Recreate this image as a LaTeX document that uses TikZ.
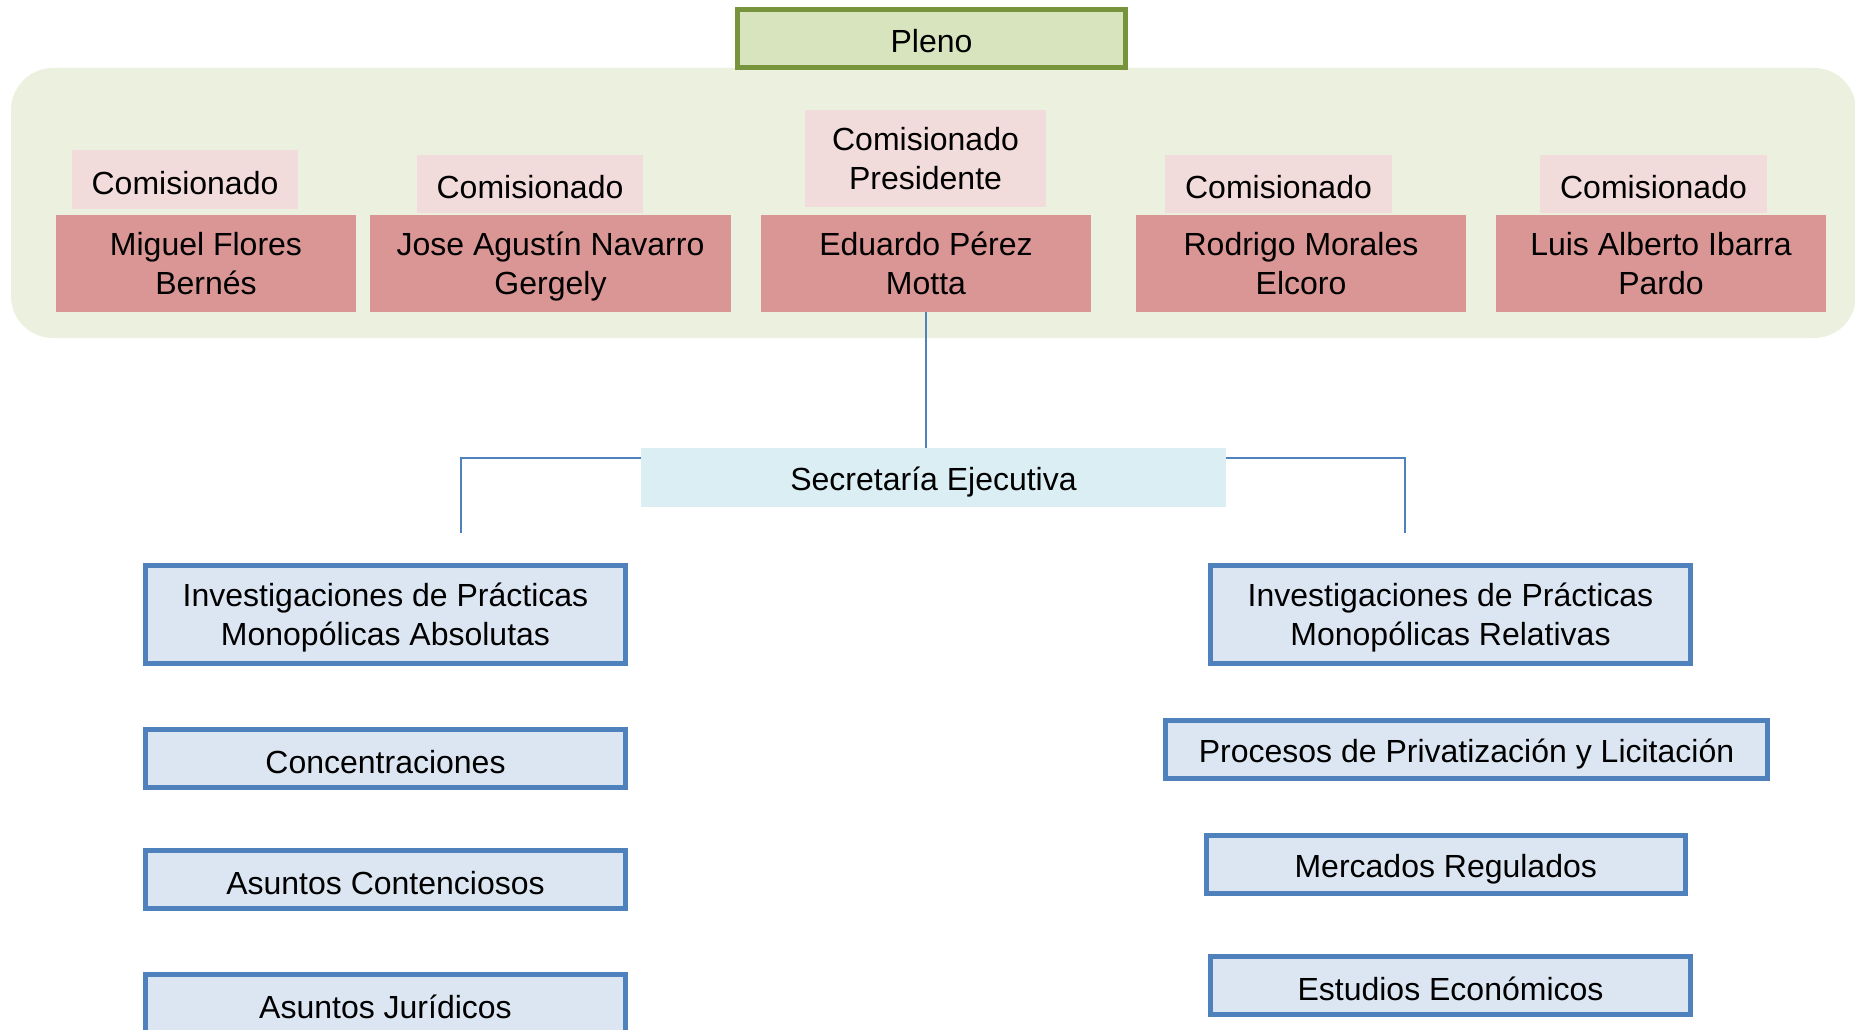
\documentclass[tikz,border=0pt]{standalone}
\usepackage{fontspec}
\setmainfont{Liberation Sans}
\definecolor{plenofill}{HTML}{D7E4BD}
\definecolor{plenoline}{HTML}{77933C}
\definecolor{bgreen}{HTML}{EBF1DE}
\definecolor{comfill}{HTML}{F2DCDB}
\definecolor{namefill}{HTML}{D99694}
\definecolor{secfill}{HTML}{DAEEF3}
\definecolor{bluefill}{HTML}{DCE6F2}
\definecolor{blueline}{HTML}{4F81BD}
\newcommand\mystrut{\rule[-3pt]{0pt}{35pt}}
\newcommand\topstrut{\rule[-3pt]{0pt}{33pt}}
\newcommand\botstrut{\rule[-8pt]{0pt}{30pt}}
\newcommand\twol[2]{\topstrut #1\\#2\botstrut}
\tikzset{
  base/.style={inner sep=0pt, align=center, font=\fontsize{32}{38}\selectfont, text=black,
    execute at begin node=\mystrut, execute at end node=\mystrut},
  twoline/.style={font=\fontsize{32}{39}\selectfont,
    execute at begin node={}, execute at end node={}},
  plenobox/.style={base, fill=plenofill, draw=plenoline, line width=5pt},
  combox/.style={base, fill=comfill},
  namebox/.style={base, twoline, fill=namefill},
  secbox/.style={base, fill=secfill},
  unitbox/.style={base, fill=bluefill, draw=blueline, line width=5pt},
  conn/.style={draw=blueline, line width=2pt}
}
\begin{document}
\begin{tikzpicture}[x=1pt,y=-1pt]
\useasboundingbox (0,0) rectangle (1855,1030);
% background panel
\fill[bgreen, rounded corners=42pt] (11,68) rectangle (1856,338);
% Pleno
\node[plenobox, minimum width=388pt, minimum height=58pt] (pleno) at (931.5,38.5) {Pleno};
% Comisionado labels
\node[combox, minimum width=226pt, minimum height=59pt] (c1) at (185,179.5) {Comisionado};
\node[combox, minimum width=226pt, minimum height=58pt] (c2) at (530,184) {Comisionado};
\node[combox, twoline, minimum width=241pt, minimum height=97pt] (cp) at (925.5,158.5) {\twol{Comisionado}{Presidente}};
\node[combox, minimum width=227pt, minimum height=58pt] (c4) at (1278.5,184) {Comisionado};
\node[combox, minimum width=227pt, minimum height=58pt] (c5) at (1653.5,184) {Comisionado};
% Names
\node[namebox, minimum width=300pt, minimum height=97pt] (n1) at (206,263.5) {\twol{Miguel Flores}{Bernés}};
\node[namebox, minimum width=361pt, minimum height=97pt] (n2) at (550.5,263.5) {\twol{Jose Agustín Navarro}{Gergely}};
\node[namebox, minimum width=330pt, minimum height=97pt] (n3) at (926,263.5) {\twol{Eduardo Pérez}{Motta}};
\node[namebox, minimum width=330pt, minimum height=97pt] (n4) at (1301,263.5) {\twol{Rodrigo Morales}{Elcoro}};
\node[namebox, minimum width=330pt, minimum height=97pt] (n5) at (1661,263.5) {\twol{Luis Alberto Ibarra}{Pardo}};
% Secretaria
\node[secbox, minimum width=585pt, minimum height=59pt] (sec) at (933.5,477.5) {Secretaría Ejecutiva};
% Units left
\node[unitbox, twoline, minimum width=480pt, minimum height=98pt] (a1) at (385.5,614.5) {\twol{Investigaciones de Prácticas}{Monopólicas Absolutas}};
\node[unitbox, minimum width=480pt, minimum height=58pt] (a2) at (385.5,758.5) {Concentraciones};
\node[unitbox, minimum width=480pt, minimum height=58pt] (a3) at (385.5,879.5) {Asuntos Contenciosos};
\node[unitbox, minimum width=480pt, minimum height=58pt] (a4) at (385.5,1003.5) {Asuntos Jurídicos};
% Units right
\node[unitbox, twoline, minimum width=480pt, minimum height=98pt] (b1) at (1450.5,614.5) {\twol{Investigaciones de Prácticas}{Monopólicas Relativas}};
\node[unitbox, minimum width=602pt, minimum height=58pt] (b2) at (1466.5,749.5) {Procesos de Privatización y Licitación};
\node[unitbox, minimum width=479.5pt, minimum height=58pt] (b3) at (1445.75,864.5) {Mercados Regulados};
\node[unitbox, minimum width=480pt, minimum height=58pt] (b4) at (1450.5,985.5) {Estudios Económicos};
% connectors
\coordinate (lb) at (461,533);
\coordinate (rb) at (1405,533);
\draw[conn] (n3.south) -- (n3.south |- sec.north);
\draw[conn] ([yshift=-10pt]sec.north west) -| (lb);
\draw[conn] ([yshift=-10pt]sec.north east) -| (rb);
\end{tikzpicture}
\end{document}
